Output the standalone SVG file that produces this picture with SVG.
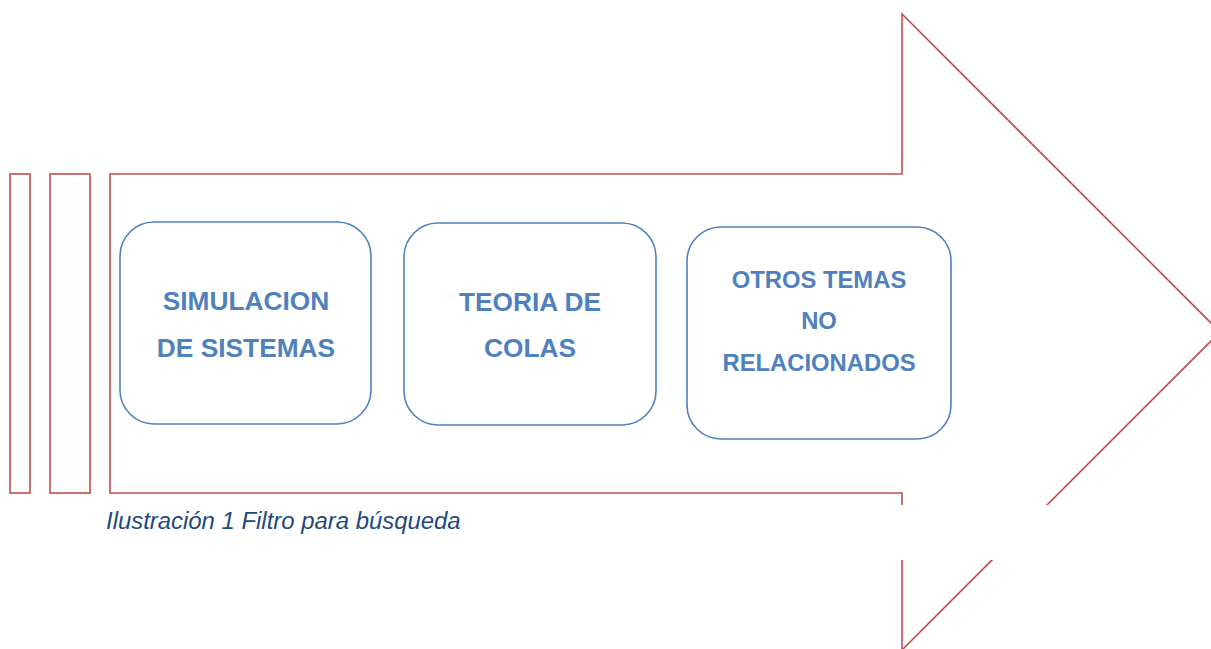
<svg xmlns="http://www.w3.org/2000/svg" width="1211" height="649" viewBox="0 0 1211 649">
<style>
.red{fill:none;stroke:#C0504D;stroke-width:1.6}
.box{fill:#FFFFFF;stroke:#4F81BD;stroke-width:1.6}
.lbl{font-family:"Liberation Sans",Arial,sans-serif;font-weight:bold;fill:#4F81BD;text-anchor:middle}
.cap{font-family:"Liberation Sans",Arial,sans-serif;font-style:italic;fill:#1F497D;font-size:23.9px}
</style>
<rect width="1211" height="649" fill="#FFFFFF"/>
<g id="bar1"><rect class="red" x="10" y="174" width="20" height="319"/></g>
<g id="bar2"><rect class="red" x="50" y="174" width="40" height="319"/></g>
<g id="arrow"><path class="red" d="M110,174 H902 V14 L1220,332 L902,650 V493 H110 Z"/></g>
<rect x="600" y="505" width="611" height="55" fill="#FFFFFF"/>
<g id="connectors"></g>
<g id="node1">
<rect class="box" x="120" y="222" width="251" height="202" rx="34" ry="34"/>
<text class="lbl" font-size="26.3" x="246" y="310">SIMULACION</text>
<text class="lbl" font-size="26.3" x="246" y="357">DE SISTEMAS</text>
</g>
<g id="node2">
<rect class="box" x="404" y="223" width="252" height="202" rx="34" ry="34"/>
<text class="lbl" font-size="26.3" x="530" y="311">TEORIA DE</text>
<text class="lbl" font-size="26.3" x="530" y="357">COLAS</text>
</g>
<g id="node3">
<rect class="box" x="687" y="227" width="264" height="212" rx="34" ry="34"/>
<text class="lbl" font-size="23.8" x="819" y="288">OTROS TEMAS</text>
<text class="lbl" font-size="23.8" x="819" y="329">NO</text>
<text class="lbl" font-size="23.8" x="819" y="371">RELACIONADOS</text>
</g>
<g id="caption"><text class="cap" x="106" y="529">Ilustración 1 Filtro para búsqueda</text></g>
</svg>
